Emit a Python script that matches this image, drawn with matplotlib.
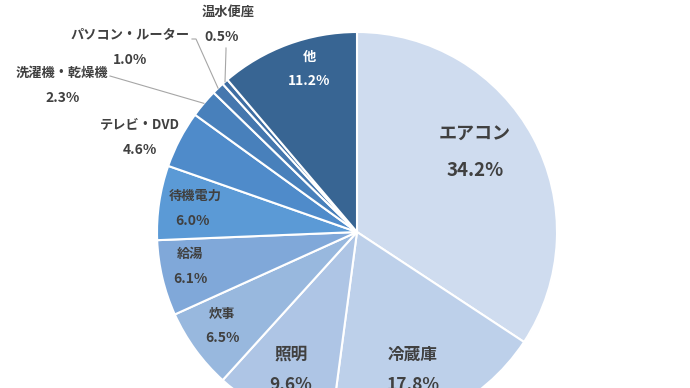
import matplotlib
matplotlib.use("Agg")
import matplotlib.pyplot as plt
import numpy as np

plt.rcParams['font.family'] = ['Noto Sans CJK JP', 'DejaVu Sans']

# data
labels = ["エアコン", "冷蔵庫", "照明", "炊事", "給湯", "待機電力",
          "テレビ・DVD", "洗濯機・乾燥機", "パソコン・ルーター", "温水便座", "他"]
values = [34.2, 17.8, 9.6, 6.5, 6.1, 6.0, 4.6, 2.3, 1.0, 0.5, 11.2]
colors = ["#cfdcef", "#bdd0ea", "#aec5e5", "#98b8de", "#80a8d9", "#5b9ad6",
          "#4f8bca", "#4880bb", "#4577ae", "#3f6ea3", "#386593"]

# label placement (pixel coords, top-left origin)
label_pos = [(475, 133), (413, 355), (291, 355), (222, 314), (190, 254),
             (195, 196), (140, 125), (62, 73), (130, 34), (228, 12), (309, 57)]
label_size = [13, 12, 12, 9.5, 9.5, 9.5, 9.5, 9.5, 9.5, 9.5, 9.5]
gap = [37, 30, 30, 24, 25, 25, 25, 25, 26, 25, 24]
pct_dx = [0, 0, 0, 0, 0, -3, 0, 1, 0, -6, 0]

W, H = 690, 388
cx, cy, r = 357, 232, 200

fig = plt.figure(figsize=(W / 100, H / 100), dpi=100)
ax = fig.add_axes([0, 0, 1, 1])

wedges, _ = ax.pie(values, colors=colors, startangle=90, counterclock=False,
                   center=(cx, H - cy), radius=r,
                   wedgeprops=dict(edgecolor='white', linewidth=1.5))
ax.set_xlim(0, W)
ax.set_ylim(0, H)
ax.set_aspect('equal')
ax.axis('off')

for i, (lab, v) in enumerate(zip(labels, values)):
    x, y = label_pos[i]
    col = 'white' if lab == "他" else '#404040'
    ax.text(x, H - y, lab, ha='center', va='center', fontsize=label_size[i],
            fontweight='bold', color=col)
    ax.text(x + pct_dx[i], H - y - gap[i], f"{v:.1f}%", ha='center', va='center',
            fontsize=label_size[i] + 0.5, fontweight='bold', color=col)

# leader lines for the small slices
def edge_point(w, frac=1.0):
    ang = np.deg2rad((w.theta1 + w.theta2) / 2)
    return cx + r * frac * np.cos(ang), H - cy + r * frac * np.sin(ang)

lc = '#a6a6a6'
px, py = edge_point(wedges[7])
ax.plot([110, px], [H - 76, py], color=lc, lw=0.8)
px, py = edge_point(wedges[8])
ax.plot([192, 196, px], [H - 39, H - 39, py], color=lc, lw=0.8)
px, py = edge_point(wedges[9])
ax.plot([226, 226, px], [H - 48, H - 50, py], color=lc, lw=0.8)

fig.savefig("out.png", dpi=100)
